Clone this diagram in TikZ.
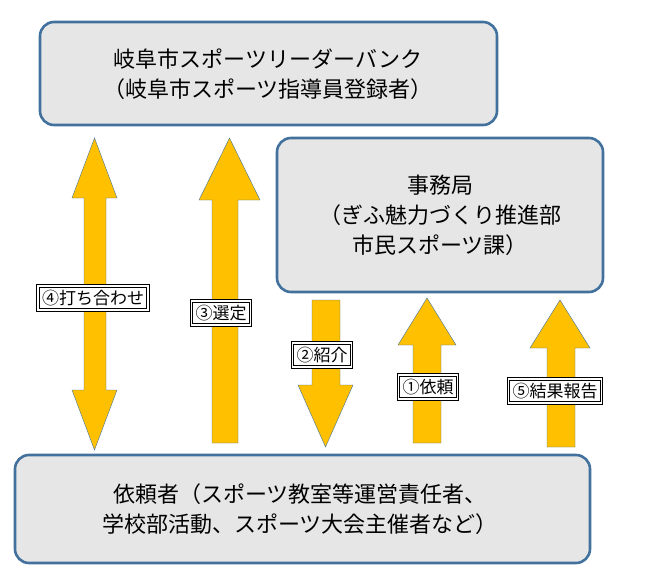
\documentclass[tikz,border=0pt]{standalone}
\usepackage{fontspec}
\setmainfont{Noto Sans CJK JP}
\definecolor{boxline}{HTML}{41719C}
\definecolor{boxfill}{HTML}{E7E6E6}
\definecolor{arrfill}{HTML}{FFC000}
\tikzset{
	panel/.style={draw=boxline, line width=2.6pt, fill=boxfill, rounded corners=14pt},
	yarrow/.style={fill=arrfill, draw=boxline, line width=0.4pt},
	tag/.style={draw, line width=0.9pt, double, double distance=1.6pt, fill=white, font=\fontsize{17}{19}\selectfont, inner sep=4pt},
	paneltext/.style={align=center, font=\fontsize{22}{30}\selectfont}
}
% up arrow: head left, head right, shaft left, shaft right, tip y, head base y, bottom y
\newcommand{\uparr}[7]{\draw[yarrow] (#3,#7) -- (#3,#6) -- (#1,#6) -- ({(#1+#2)/2},#5) -- (#2,#6) -- (#4,#6) -- (#4,#7) -- cycle;}
\begin{document}
\begin{tikzpicture}[x=1pt,y=-1pt]
	\useasboundingbox (0,0) rectangle (645,583);
	% panels
	\draw[panel] (40,22) rectangle (497,125);
	\node[paneltext] (bank) at (268,74) {岐阜市スポーツリーダーバンク\\（岐阜市スポーツ指導員登録者）};
	\draw[panel] (277,138) rectangle (603,292);
	\node[paneltext] (office) at (440,215) {事務局\\（ぎふ魅力づくり推進部\\市民スポーツ課）};
	\draw[panel] (15,455) rectangle (590,563);
	\node[paneltext] (client) at (300,509) {依頼者（スポーツ教室等運営責任者、\\学校部活動、スポーツ大会主催者など）};
	% arrows
	\draw[yarrow] (84,198) -- (72,198) -- (94.5,138) -- (117,198) -- (106,198) -- (106,390) -- (117,390) -- (94.5,450) -- (72,390) -- (84,390) -- cycle;
	\uparr{199}{260}{212}{238}{138}{200}{443}
	\draw[yarrow] (312,300) -- (312,385) -- (298,385) -- (325.5,447) -- (353,385) -- (340,385) -- (340,300) -- cycle;
	\uparr{398}{456}{413}{441}{298}{345}{443}
	\uparr{530}{590}{547}{575}{300}{348}{447}
	% tags
	\node[tag] (t4) at (93,298) {④打ち合わせ};
	\node[tag] (t3) at (221,313) {③選定};
	\node[tag] (t2) at (322,355) {②紹介};
	\node[tag] (t1) at (428,387) {①依頼};
	\node[tag] (t5) at (555,391) {⑤結果報告};
\end{tikzpicture}
\end{document}
